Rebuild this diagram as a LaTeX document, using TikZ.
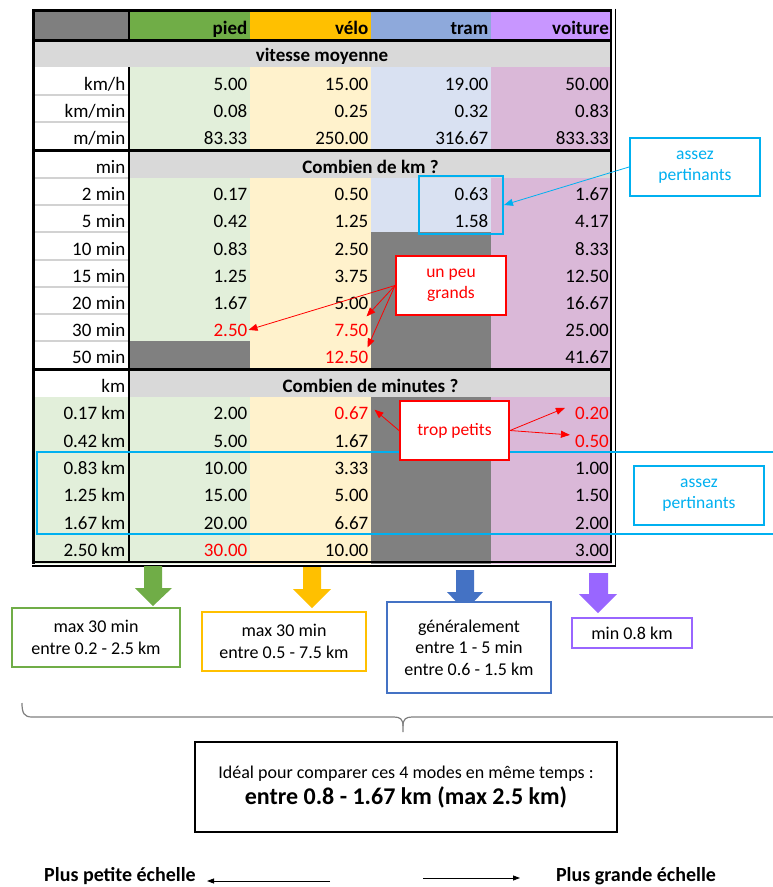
\documentclass[tikz,border=0pt]{standalone}
\usepackage{fontspec}
\setmainfont{Carlito}
\usetikzlibrary{arrows.meta}
\definecolor{hgray}{RGB}{127,127,127}
\definecolor{pgreen}{RGB}{112,173,71}
\definecolor{vyellow}{RGB}{255,192,0}
\definecolor{tblue}{RGB}{142,169,219}
\definecolor{vpurple}{RGB}{200,150,255}
\definecolor{sgray}{RGB}{217,217,217}
\definecolor{lgreen}{RGB}{226,239,218}
\definecolor{lyellow}{RGB}{255,242,204}
\definecolor{lblue}{RGB}{217,225,242}
\definecolor{lpurple}{RGB}{218,184,216}
\definecolor{dgray}{RGB}{128,128,128}
\definecolor{cyanc}{RGB}{0,176,240}
\definecolor{ablue}{RGB}{68,114,196}
\definecolor{apurple}{RGB}{153,102,255}
\definecolor{rred}{RGB}{255,0,0}
\definecolor{bracegray}{RGB}{127,127,127}
\definecolor{sepgray}{RGB}{210,210,210}
\newcommand\tcell[4]{\node[cell] (#1) at (#2,#3) {#4};}
\newcommand\rcellx[4]{\node[cell,text=rred] (#1) at (#2,#3) {#4};}
\begin{document}
\begin{tikzpicture}[x=1pt,y=-1pt,
  cell/.style={inner sep=0pt,anchor=base east,font=\fontsize{19}{22}\selectfont},
  hcell/.style={cell,font=\fontsize{19}{22}\selectfont\bfseries},
  sechd/.style={inner sep=0pt,anchor=base,font=\fontsize{19}{22}\selectfont\bfseries},
  callout/.style={fill=white,line width=2pt,align=center,inner sep=0pt,font=\fontsize{17.5}{21}\selectfont},
  cyanbox/.style={callout,draw=cyanc,text=cyanc},
  redbox/.style={callout,draw=rred,text=rred},
  cyanarrow/.style={draw=cyanc,line width=0.8pt,-{Triangle[length=9pt,width=7pt]}},
  redarrow/.style={draw=rred,line width=0.8pt,-{Triangle[length=9pt,width=7pt]}},
  infobox/.style={fill=white,align=center,inner sep=0pt,font=\fontsize{18}{21.5}\selectfont},
  blackarrow/.style={draw=black,line width=0.8pt,-{Triangle[length=7pt,width=5pt]}},
  bottomlab/.style={inner sep=0pt,anchor=base,font=\fontsize{20}{24}\selectfont\bfseries}
]
\useasboundingbox (0,0) rectangle (773,887);
% ---------- fills ----------
\fill[hgray] (33,10) rectangle (129,40);
\fill[pgreen] (129,10) rectangle (250,40);
\fill[vyellow] (250,10) rectangle (371,40);
\fill[tblue] (371,10) rectangle (491,40);
\fill[vpurple] (491,10) rectangle (612,40);
\fill[sgray] (33,40) rectangle (612,67);
\fill[lgreen] (129,67) rectangle (250,150);
\fill[lyellow] (250,67) rectangle (371,150);
\fill[lblue] (371,67) rectangle (491,150);
\fill[lpurple] (491,67) rectangle (612,150);
\fill[sgray] (129,150) rectangle (612,178);
\fill[lgreen] (129,178) rectangle (250,369);
\fill[lyellow] (250,178) rectangle (371,369);
\fill[lblue] (371,178) rectangle (491,232);
\fill[dgray] (371,232) rectangle (491,369);
\fill[dgray] (129,341) rectangle (250,369);
\fill[lpurple] (491,178) rectangle (612,369);
\fill[sgray] (129,369) rectangle (612,397);
\fill[lgreen] (33,397) rectangle (250,564);
\fill[lyellow] (250,397) rectangle (371,564);
\fill[dgray] (371,397) rectangle (491,564);
\fill[lpurple] (491,397) rectangle (612,564);
% label column separators
\foreach \yy in {95,122,178,205,232,260,287,314,341}
  \draw[sepgray,line width=1.2pt] (34,\yy) -- (128,\yy);
% ---------- borders ----------
\draw[line width=3pt] (33,564) -- (33,10) -- (612,10);
\draw[line width=3pt] (33,40) -- (612,40);
\draw[line width=3pt] (33,150) -- (612,150);
\draw[line width=3pt] (33,369) -- (612,369);
\draw[line width=2.5pt] (129,10) -- (129,40);
\draw[line width=2.5pt] (129,67) -- (129,562);
\draw[line width=1.4pt] (611,9) -- (611,562) -- (32,562);
\draw[line width=1.4pt] (615.5,8.5) -- (615.5,566) -- (31.5,566);
% ---------- header ----------
\node[hcell] (h-a) at (247.5,34) {pied};
\node[hcell] (h-b) at (368.5,34) {vélo};
\node[hcell] (h-c) at (488.5,34) {tram};
\node[hcell] (h-d) at (609,34) {voiture};
\node[sechd] (s1) at (322,61.5) {vitesse moyenne};
\node[sechd] (s2) at (370.5,173) {Combien de km ?};
\node[sechd] (s3) at (370.5,392) {Combien de minutes ?};
% ---------- section 1 ----------
\tcell{l-kmh}{125.5}{90}{km/h}
\tcell{a-kmh}{247.5}{90}{5.00}
\tcell{b-kmh}{368.5}{90}{15.00}
\tcell{c-kmh}{488.5}{90}{19.00}
\tcell{d-kmh}{609}{90}{50.00}
\tcell{l-kmm}{125.5}{117}{km/min}
\tcell{a-kmm}{247.5}{117}{0.08}
\tcell{b-kmm}{368.5}{117}{0.25}
\tcell{c-kmm}{488.5}{117}{0.32}
\tcell{d-kmm}{609}{117}{0.83}
\tcell{l-mm}{125.5}{144}{m/min}
\tcell{a-mm}{247.5}{144}{83.33}
\tcell{b-mm}{368.5}{144}{250.00}
\tcell{c-mm}{488.5}{144}{316.67}
\tcell{d-mm}{609}{144}{833.33}
% ---------- section 2 ----------
\tcell{l-min}{125.5}{173}{min}
\tcell{l-2}{125.5}{200}{2 min}
\tcell{a-2}{247.5}{200}{0.17}
\tcell{b-2}{368.5}{200}{0.50}
\tcell{c-2}{488.5}{200}{0.63}
\tcell{d-2}{609}{200}{1.67}
\tcell{l-5}{125.5}{227}{5 min}
\tcell{a-5}{247.5}{227}{0.42}
\tcell{b-5}{368.5}{227}{1.25}
\tcell{c-5}{488.5}{227}{1.58}
\tcell{d-5}{609}{227}{4.17}
\tcell{l-10}{125.5}{255}{10 min}
\tcell{a-10}{247.5}{255}{0.83}
\tcell{b-10}{368.5}{255}{2.50}
\tcell{d-10}{609}{255}{8.33}
\tcell{l-15}{125.5}{282}{15 min}
\tcell{a-15}{247.5}{282}{1.25}
\tcell{b-15}{368.5}{282}{3.75}
\tcell{d-15}{609}{282}{12.50}
\tcell{l-20}{125.5}{309}{20 min}
\tcell{a-20}{247.5}{309}{1.67}
\tcell{b-20}{368.5}{309}{5.00}
\tcell{d-20}{609}{309}{16.67}
\tcell{l-30}{125.5}{336}{30 min}
\rcellx{a-30}{247.5}{336}{2.50}
\rcellx{b-30}{368.5}{336}{7.50}
\tcell{d-30}{609}{336}{25.00}
\tcell{l-50}{125.5}{363}{50 min}
\rcellx{b-50}{368.5}{363}{12.50}
\tcell{d-50}{609}{363}{41.67}
% ---------- section 3 ----------
\tcell{l-km}{125.5}{392}{km}
\tcell{l-017}{125.5}{419}{0.17 km}
\tcell{a-017}{247.5}{419}{2.00}
\rcellx{b-017}{368.5}{419}{0.67}
\rcellx{d-017}{609}{419}{0.20}
\tcell{l-042}{125.5}{447}{0.42 km}
\tcell{a-042}{247.5}{447}{5.00}
\tcell{b-042}{368.5}{447}{1.67}
\rcellx{d-042}{609}{447}{0.50}
\tcell{l-083}{125.5}{474}{0.83 km}
\tcell{a-083}{247.5}{474}{10.00}
\tcell{b-083}{368.5}{474}{3.33}
\tcell{d-083}{609}{474}{1.00}
\tcell{l-125}{125.5}{501}{1.25 km}
\tcell{a-125}{247.5}{501}{15.00}
\tcell{b-125}{368.5}{501}{5.00}
\tcell{d-125}{609}{501}{1.50}
\tcell{l-167}{125.5}{529}{1.67 km}
\tcell{a-167}{247.5}{529}{20.00}
\tcell{b-167}{368.5}{529}{6.67}
\tcell{d-167}{609}{529}{2.00}
\tcell{l-250}{125.5}{556}{2.50 km}
\rcellx{a-250}{247.5}{556}{30.00}
\tcell{b-250}{368.5}{556}{10.00}
\tcell{d-250}{609}{556}{3.00}
% ---------- highlights and callouts ----------
\draw[cyanc,line width=2pt] (773,452) -- (37,452) -- (37,534) -- (773,534);
\node[draw=cyanc,line width=2pt,minimum width=84pt,minimum height=58pt,inner sep=0pt] (hl1) at (461,205) {};
\node[cyanbox,minimum width=130pt,minimum height=58pt] (c1) at (695,167) {assez\\pertinants};
\node[redbox,minimum width=110pt,minimum height=59pt] (c2) at (451,285.5) {un peu\\grands};
\node[redbox,minimum width=109pt,minimum height=59pt] (c3) at (454.5,430.5) {trop petits};
\node[cyanbox,line width=1.5pt,minimum width=130pt,minimum height=59pt] (c4) at (699,495.5) {assez\\pertinants};
\draw[cyanarrow] (c1.west) -- (hl1.east);
\draw[redarrow] (c2.west) -- ([xshift=1pt]a-30.east);
\draw[redarrow] (c2.west) -- ([xshift=-2pt,yshift=7pt]b-30.north east);
\draw[redarrow] (c2.west) -- ([xshift=-1pt,yshift=3pt]b-50.north east);
\draw[redarrow] (c3.west) -- ([xshift=6pt,yshift=3pt]b-017.east);
\draw[redarrow] (c3.east) -- ([xshift=-10pt,yshift=5pt]d-017.west);
\draw[redarrow] (c3.east) -- ([xshift=-5pt,yshift=6pt]d-042.west);
% ---------- block arrows ----------
\fill[pgreen] (144,566) -- (162,566) -- (162,588) -- (172,588) -- (153,606) -- (135,588) -- (144,588) -- cycle;
\fill[vyellow] (303,567) -- (321,567) -- (321,589) -- (331,589) -- (312,608) -- (293,589) -- (303,589) -- cycle;
\fill[ablue] (456,570) -- (474,570) -- (474,592) -- (483,592) -- (465,611) -- (447,592) -- (456,592) -- cycle;
\fill[apurple] (589,573) -- (608,573) -- (608,594) -- (617,594) -- (598,613) -- (579,594) -- (589,594) -- cycle;
% ---------- info boxes ----------
\node[infobox,draw=pgreen,line width=2pt,minimum width=168pt,minimum height=59pt] (bg) at (96,637.5) {max 30 min\\entre 0.2 - 2.5 km};
\node[infobox,draw=vyellow,line width=2pt,minimum width=164pt,minimum height=59pt] (by) at (284,641.5) {max 30 min\\entre 0.5 - 7.5 km};
\node[infobox,draw=ablue,line width=1.5pt,minimum width=164pt,minimum height=91pt] (bb) at (469,647.5) {généralement\\entre 1 - 5 min\\entre 0.6 - 1.5 km};
\node[infobox,draw=apurple,line width=2pt,minimum width=120pt,minimum height=30pt] (bp) at (632,633) {min 0.8 km};
% ---------- brace ----------
\draw[bracegray,line width=1.2pt] (22,703) .. controls (22,713) and (24,717) .. (32,717) -- (394,717) .. controls (400,717) and (403,719) .. (403,726) -- (403,732);
\draw[bracegray,line width=1.2pt] (403,726) .. controls (403,719) and (406,717) .. (412,717) -- (773,717);
% ---------- conclusion ----------
\node[draw=black,line width=1.5pt,minimum width=422pt,minimum height=90pt,align=center,inner sep=0pt] (bx) at (406,787)
  {\fontsize{18}{22}\selectfont Idéal pour comparer ces 4 modes en même temps :\\[4pt]\fontsize{24}{28}\selectfont\bfseries entre 0.8 - 1.67 km (max 2.5 km)};
\node[bottomlab] (lpe) at (120,881) {Plus petite échelle};
\node[bottomlab] (rge) at (636,881) {Plus grande échelle};
\coordinate (la) at (330,881);
\coordinate (lat) at (207,881);
\coordinate (ra) at (423,878);
\coordinate (rat) at (520,878);
\draw[blackarrow] (la) -- (lat);
\draw[blackarrow] (ra) -- (rat);
\end{tikzpicture}
\end{document}
